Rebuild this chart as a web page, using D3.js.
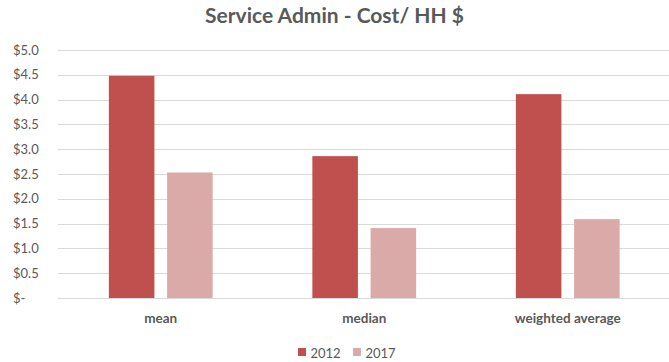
<!DOCTYPE html>
<html>
<head>
<meta charset="utf-8">
<script src="https://cdn.jsdelivr.net/npm/d3@7"></script>
<style>
  html, body { margin: 0; padding: 0; background: #fff; }
  svg { display: block; font-family: Lato, "Open Sans", sans-serif; }
</style>
</head>
<body>
<svg id="chart" width="669" height="362"></svg>
<script>
// Chart data
const categories = ["mean", "median", "weighted average"];
const seriesNames = ["2012", "2017"];
const values2012 = [4.48, 2.86, 4.11];
const values2017 = [2.53, 1.41, 1.59];
const yTicks = [0, 0.5, 1.0, 1.5, 2.0, 2.5, 3.0, 3.5, 4.0, 4.5, 5.0];
const colors = ["#C0504D", "#DAAAA9"];

const rows = categories.map((c, i) => ({ category: c, values: [values2012[i], values2017[i]] }));

const svg = d3.select("#chart");
const W = 669, H = 362;
const plot = { left: 59, right: 669.5, top: 50, bottom: 298 };

const x = d3.scaleBand()
  .domain(categories)
  .range([plot.left, plot.right])
  .paddingInner(0.49)
  .paddingOuter(0.245);

const xSub = d3.scaleBand()
  .domain(seriesNames)
  .range([0, x.bandwidth()])
  .paddingInner(0.218)
  .paddingOuter(0);

const y = d3.scaleLinear().domain([0, 5]).range([plot.bottom, plot.top]);

// Title
svg.append("text")
  .attr("x", W / 2)
  .attr("y", 23)
  .attr("text-anchor", "middle")
  .attr("font-size", 21)
  .attr("font-weight", "bold")
  .attr("fill", "#595959")
  .text("Service Admin - Cost/ HH $");

// Horizontal gridlines
svg.append("g")
  .selectAll("line")
  .data(yTicks)
  .join("line")
  .attr("x1", 58)
  .attr("x2", W)
  .attr("y1", d => Math.round(y(d)) + 0.5)
  .attr("y2", d => Math.round(y(d)) + 0.5)
  .attr("stroke", "#D9D9D9")
  .attr("stroke-width", 1);

// Y-axis labels (accounting style: zero shown as "$-")
const fmt = d => d === 0 ? "$-" : "$" + d3.format(".1f")(d);
svg.append("g")
  .selectAll("text")
  .data(yTicks)
  .join("text")
  .attr("x", 13)
  .attr("y", d => y(d))
  .attr("dy", "0.35em")
  .attr("font-size", 13)
  .attr("fill", "#595959")
  .text(fmt);

// Bars
const groups = svg.append("g")
  .selectAll("g")
  .data(rows)
  .join("g")
  .attr("transform", d => `translate(${x(d.category)},0)`);

groups.selectAll("rect")
  .data(d => d.values.map((v, i) => ({ key: seriesNames[i], value: v, i })))
  .join("rect")
  .attr("x", d => xSub(d.key))
  .attr("width", xSub.bandwidth())
  .attr("y", d => y(d.value))
  .attr("height", d => y(0) - y(d.value))
  .attr("fill", d => colors[d.i]);

// Category labels
svg.append("g")
  .selectAll("text")
  .data(categories)
  .join("text")
  .attr("x", d => x(d) + x.bandwidth() / 2)
  .attr("y", 323)
  .attr("text-anchor", "middle")
  .attr("font-size", 13.5)
  .attr("font-weight", "bold")
  .attr("fill", "#595959")
  .text(d => d);

// Legend
const legendX = [298, 353];
const legend = svg.append("g")
  .selectAll("g")
  .data(seriesNames)
  .join("g")
  .attr("transform", (d, i) => `translate(${legendX[i]},348)`);

legend.append("rect")
  .attr("width", 8)
  .attr("height", 8)
  .attr("fill", (d, i) => colors[i]);

legend.append("text")
  .attr("x", 12.5)
  .attr("y", 9.5)
  .attr("font-size", 13)
  .attr("fill", "#595959")
  .text(d => d);
</script>
</body>
</html>
